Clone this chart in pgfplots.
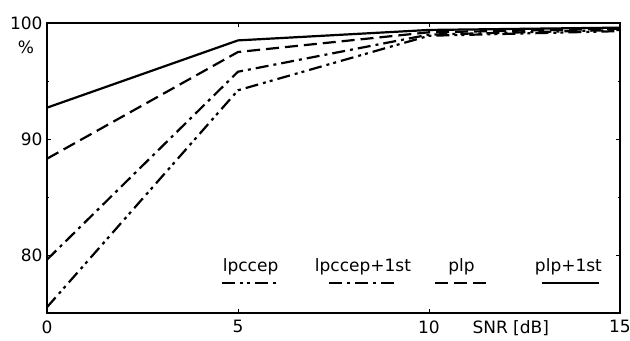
\documentclass[border=0pt]{standalone}
\usepackage{pgfplots}
\pgfplotsset{compat=1.18}
\usepackage{fontspec}
\setmainfont{DejaVu Sans}
\begin{document}
\begin{tikzpicture}
\begin{axis}[
  scale only axis,
  width=573pt, height=290pt,
  xmin=0, xmax=15, ymin=75, ymax=100,
  xtick={0,5,10,15}, ytick={80,90,100},
  minor y tick num=1,
  tick align=inside,
  major tick length=4pt, minor tick length=2pt,
  axis line style={line width=2.4pt},
  tick style={line width=0.8pt, black},
  /pgf/number format/assume math mode=true,
  tick label style={font=\fontsize{17}{19}\selectfont},
  xticklabel style={yshift=-4pt},
  yticklabel style={xshift=-1pt},
  clip=false,
  every axis plot/.append style={line width=2.2pt, black},
]
% lpccep
\addplot[dash pattern=on 13pt off 5pt on 3pt off 4pt on 3pt off 5pt] coordinates {(0,75.5) (5,94.2) (10,98.9) (15,99.3)};
% lpccep+1st
\addplot[dash pattern=on 13pt off 5pt on 3pt off 5pt] coordinates {(0,79.6) (5,95.8) (10,99.0) (15,99.4)};
% plp
\addplot[dash pattern=on 13pt off 6pt] coordinates {(0,88.3) (5,97.5) (10,99.2) (15,99.5)};
% plp+1st
\addplot[solid] coordinates {(0,92.7) (5,98.5) (10,99.4) (15,99.6)};
% legend samples
\addplot[dash pattern=on 13pt off 5pt on 3pt off 4pt on 3pt off 5pt] coordinates {(4.57,77.6) (6.03,77.6)};
\addplot[dash pattern=on 13pt off 5pt on 3pt off 5pt] coordinates {(7.39,77.6) (9.09,77.6)};
\addplot[dash pattern=on 13pt off 6pt] coordinates {(10.16,77.6) (11.6,77.6)};
\addplot[solid] coordinates {(12.95,77.6) (14.46,77.6)};
\node[font=\fontsize{17}{19}\selectfont] at (axis cs:5.33,79.0) {lpccep};
\node[font=\fontsize{17}{19}\selectfont] at (axis cs:8.27,79.0) {lpccep+1st};
\node[font=\fontsize{17}{19}\selectfont] at (axis cs:10.85,79.0) {plp};
\node[font=\fontsize{17}{19}\selectfont] at (axis cs:13.65,79.0) {plp+1st};
\node[font=\fontsize{17}{19}\selectfont, anchor=center] at (axis cs:-0.55,97.9) {\%};
\node[font=\fontsize{17}{19}\selectfont, below, yshift=-4pt, inner sep=3.3pt] at (axis cs:12.14,75) {SNR [dB]};
\end{axis}
\pgfresetboundingbox
\path[use as bounding box] ([xshift=-47pt,yshift=-28pt]current axis.south west) rectangle ([xshift=10pt,yshift=23pt]current axis.north east);
\end{tikzpicture}
\end{document}
